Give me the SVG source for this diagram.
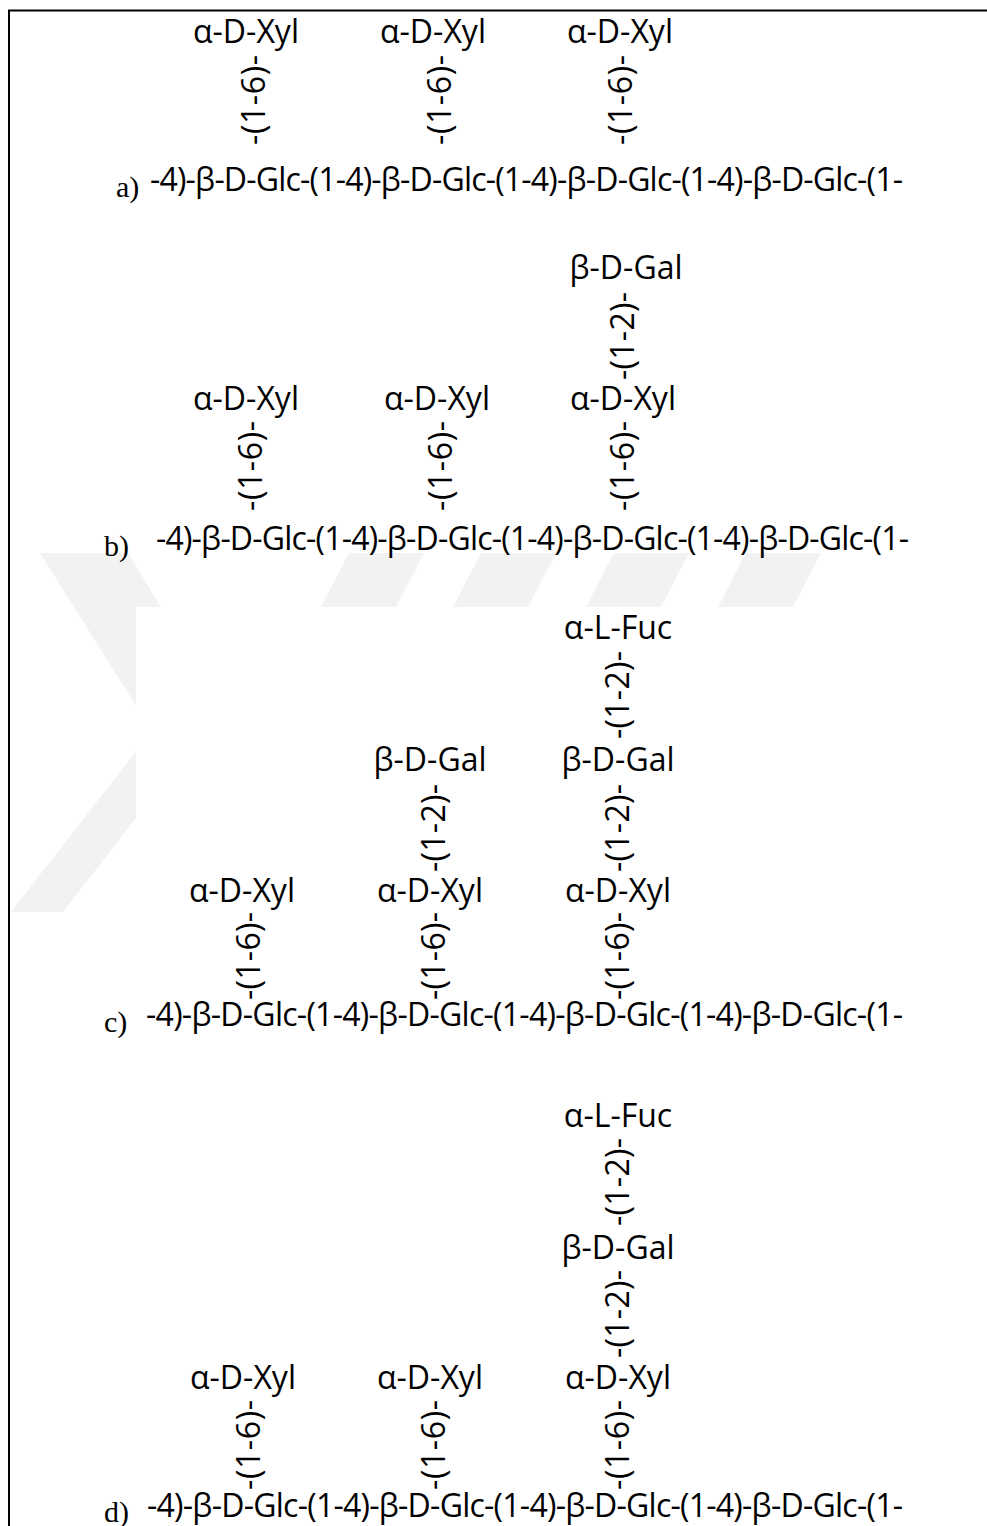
<svg xmlns="http://www.w3.org/2000/svg" width="987" height="1526" viewBox="0 0 987 1526">
<style>
.s{font-family:"Open Sans","Noto Sans","DejaVu Sans",sans-serif;font-size:32px;fill:#000;text-anchor:middle}
.c{font-family:"Open Sans","Noto Sans","DejaVu Sans",sans-serif;font-size:32px;fill:#000}
.l{font-family:"Liberation Serif","Times New Roman",serif;font-size:30px;fill:#000}
.w{fill:#f2f2f2}
</style>
<rect width="987" height="1526" fill="#fff"/>
<g id="watermark">
<polygon class="w" points="40,553 128,553 222,707 63,912 11,912 152,731"/>
<polygon class="w" points="321,607 396,607 424,553 349,553"/>
<polygon class="w" points="453,607 528,607 556,553 481,553"/>
<polygon class="w" points="586,607 661,607 689,553 614,553"/>
<polygon class="w" points="718,607 793,607 821,553 746,553"/>
<rect x="136" y="607" width="851" height="430" fill="#fff"/>
</g>
<path d="M9,1526 V10.5 H987" fill="none" stroke="#000" stroke-width="2"/>

<g id="connectors">
<!-- a -->
<text class="s" textLength="90" transform="translate(265,100) rotate(-90)">-(1-6)-</text>
<text class="s" textLength="90" transform="translate(451,100) rotate(-90)">-(1-6)-</text>
<text class="s" textLength="90" transform="translate(632,100) rotate(-90)">-(1-6)-</text>
<!-- b -->
<text class="s" textLength="88" transform="translate(634,336) rotate(-90)">-(1-2)-</text>
<text class="s" textLength="90" transform="translate(262,466) rotate(-90)">-(1-6)-</text>
<text class="s" textLength="90" transform="translate(452,466) rotate(-90)">-(1-6)-</text>
<text class="s" textLength="90" transform="translate(634,466) rotate(-90)">-(1-6)-</text>
<!-- c -->
<text class="s" textLength="88" transform="translate(629,695) rotate(-90)">-(1-2)-</text>
<text class="s" textLength="88" transform="translate(445,828) rotate(-90)">-(1-2)-</text>
<text class="s" textLength="88" transform="translate(629,828) rotate(-90)">-(1-2)-</text>
<text class="s" textLength="88" transform="translate(260,956) rotate(-90)">-(1-6)-</text>
<text class="s" textLength="88" transform="translate(445,956) rotate(-90)">-(1-6)-</text>
<text class="s" textLength="88" transform="translate(629,956) rotate(-90)">-(1-6)-</text>
<!-- d -->
<text class="s" textLength="88" transform="translate(629,1182) rotate(-90)">-(1-2)-</text>
<text class="s" textLength="88" transform="translate(629,1314) rotate(-90)">-(1-2)-</text>
<text class="s" textLength="90" transform="translate(260,1445) rotate(-90)">-(1-6)-</text>
<text class="s" textLength="90" transform="translate(445,1445) rotate(-90)">-(1-6)-</text>
<text class="s" textLength="90" transform="translate(629,1445) rotate(-90)">-(1-6)-</text>
</g>

<!-- a -->
<g id="a-xyl1"><text class="s" x="246" y="43">α-D-Xyl</text></g>
<g id="a-xyl2"><text class="s" x="433" y="43">α-D-Xyl</text></g>
<g id="a-xyl3"><text class="s" x="620" y="43">α-D-Xyl</text></g>
<g id="a-label"><text class="l" x="116" y="197">a)</text></g>
<g id="a-chain"><text class="c" x="150" y="191" textLength="753">-4)-β-D-Glc-(1-4)-β-D-Glc-(1-4)-β-D-Glc-(1-4)-β-D-Glc-(1-</text></g>

<!-- b -->
<g id="b-gal"><text class="s" x="626" y="279">β-D-Gal</text></g>
<g id="b-xyl1"><text class="s" x="246" y="410">α-D-Xyl</text></g>
<g id="b-xyl2"><text class="s" x="437" y="410">α-D-Xyl</text></g>
<g id="b-xyl3"><text class="s" x="623" y="410">α-D-Xyl</text></g>
<g id="b-label"><text class="l" x="104" y="556">b)</text></g>
<g id="b-chain"><text class="c" x="156" y="550" textLength="753">-4)-β-D-Glc-(1-4)-β-D-Glc-(1-4)-β-D-Glc-(1-4)-β-D-Glc-(1-</text></g>

<!-- c -->
<g id="c-fuc"><text class="s" x="618" y="639">α-L-Fuc</text></g>
<g id="c-gal1"><text class="s" x="430" y="771">β-D-Gal</text></g>
<g id="c-gal2"><text class="s" x="618" y="771">β-D-Gal</text></g>
<g id="c-xyl1"><text class="s" x="242" y="902">α-D-Xyl</text></g>
<g id="c-xyl2"><text class="s" x="430" y="902">α-D-Xyl</text></g>
<g id="c-xyl3"><text class="s" x="618" y="902">α-D-Xyl</text></g>
<g id="c-label"><text class="l" x="104" y="1032">c)</text></g>
<g id="c-chain"><text class="c" x="146" y="1026" textLength="757">-4)-β-D-Glc-(1-4)-β-D-Glc-(1-4)-β-D-Glc-(1-4)-β-D-Glc-(1-</text></g>

<!-- d -->
<g id="d-fuc"><text class="s" x="618" y="1127">α-L-Fuc</text></g>
<g id="d-gal"><text class="s" x="618" y="1259">β-D-Gal</text></g>
<g id="d-xyl1"><text class="s" x="243" y="1389">α-D-Xyl</text></g>
<g id="d-xyl2"><text class="s" x="430" y="1389">α-D-Xyl</text></g>
<g id="d-xyl3"><text class="s" x="618" y="1389">α-D-Xyl</text></g>
<g id="d-label"><text class="l" x="104" y="1522">d)</text></g>
<g id="d-chain"><text class="c" x="147" y="1517" textLength="756">-4)-β-D-Glc-(1-4)-β-D-Glc-(1-4)-β-D-Glc-(1-4)-β-D-Glc-(1-</text></g>
</svg>
